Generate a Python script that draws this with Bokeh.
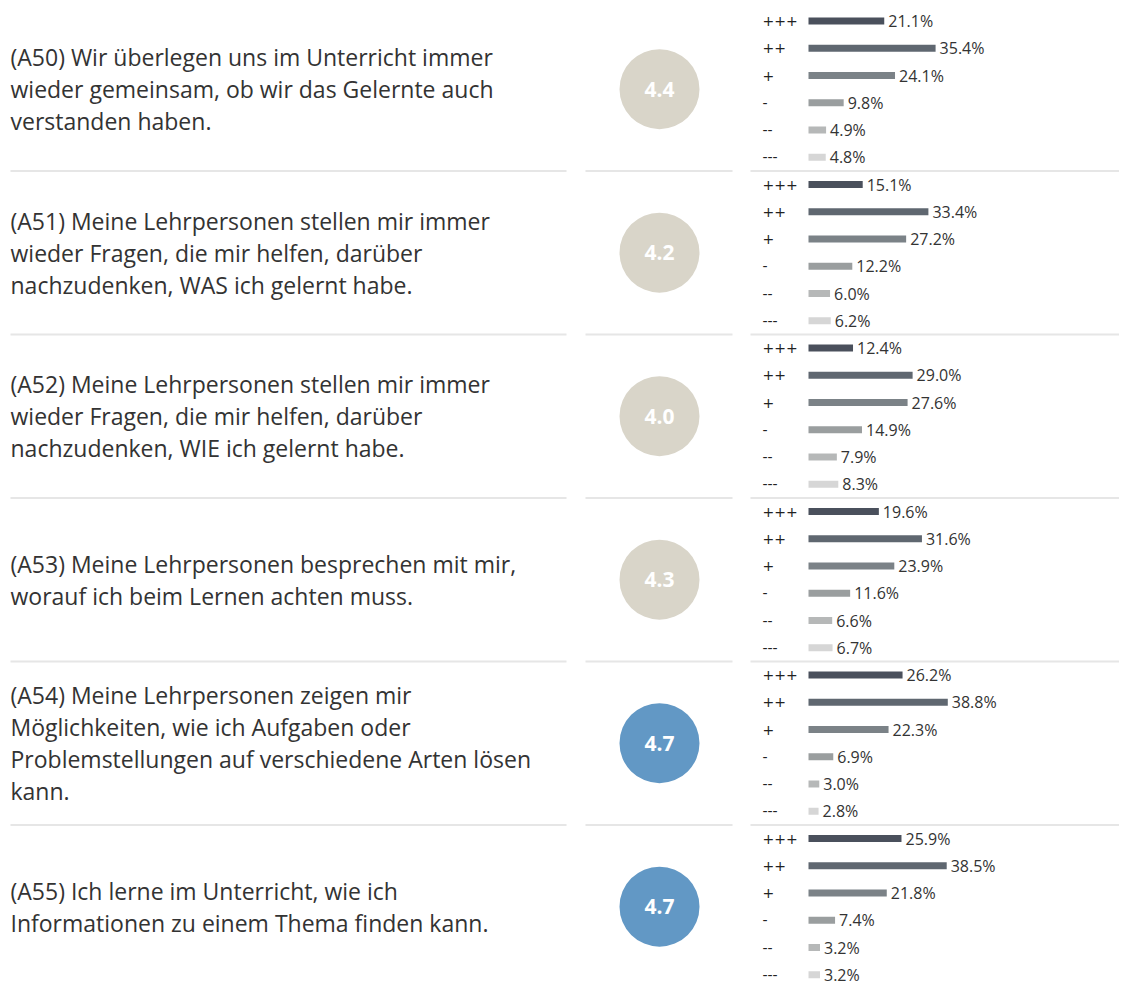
from bokeh.plotting import figure
from bokeh.models import Range1d, ColumnDataSource
from bokeh.core.properties import value
from bokeh.embed import file_html
from bokeh.resources import INLINE

# ---------------- data ----------------
questions = [
    "(A50) Wir überlegen uns im Unterricht immer\nwieder gemeinsam, ob wir das Gelernte auch\nverstanden haben.",
    "(A51) Meine Lehrpersonen stellen mir immer\nwieder Fragen, die mir helfen, darüber\nnachzudenken, WAS ich gelernt habe.",
    "(A52) Meine Lehrpersonen stellen mir immer\nwieder Fragen, die mir helfen, darüber\nnachzudenken, WIE ich gelernt habe.",
    "(A53) Meine Lehrpersonen besprechen mit mir,\nworauf ich beim Lernen achten muss.",
    "(A54) Meine Lehrpersonen zeigen mir\nMöglichkeiten, wie ich Aufgaben oder\nProblemstellungen auf verschiedene Arten lösen\nkann.",
    "(A55) Ich lerne im Unterricht, wie ich\nInformationen zu einem Thema finden kann.",
]
means = [4.4, 4.2, 4.0, 4.3, 4.7, 4.7]
levels = ["+++", "++", "+", "-", "--", "---"]
a50 = [21.1, 35.4, 24.1, 9.8, 4.9, 4.8]
a51 = [15.1, 33.4, 27.2, 12.2, 6.0, 6.2]
a52 = [12.4, 29.0, 27.6, 14.9, 7.9, 8.3]
a53 = [19.6, 31.6, 23.9, 11.6, 6.6, 6.7]
a54 = [26.2, 38.8, 22.3, 6.9, 3.0, 2.8]
a55 = [25.9, 38.5, 21.8, 7.4, 3.2, 3.2]
shares = [a50, a51, a52, a53, a54, a55]

# ---------------- styles ----------------
level_colors = ["#4a505c", "#5f6770", "#7b8287", "#9a9e9f", "#b6b8b8", "#d6d6d6"]
gray_circle = "#d9d5c9"
blue_circle = "#6298c5"
text_color = "#333333"
sep_color = "#e6e6e6"
FONT = "Open Sans"

W, H = 1119, 986
ITEM = 27.25          # px per bar slot
Y0 = 20.5             # px of first slot
PX_PER_PCT = 3.59
BAR_X0 = 808

def k_of(py):
    return (py - Y0) / ITEM

p = figure(width=W, height=H,
           x_range=Range1d(0, W),
           y_range=Range1d(k_of(H), k_of(0)),
           x_axis_type=None, y_axis_type=None,
           output_backend="svg", toolbar_location=None,
           min_border=0, outline_line_color=None)
p.background_fill_color = "white"
p.border_fill_color = "white"
p.extra_x_ranges = {"pct": Range1d(-BAR_X0 / PX_PER_PCT, (W - BAR_X0) / PX_PER_PCT)}

n_levels = len(levels)

# bars
bar = dict(y=[], v=[], c=[], lab=[], lvl=[])
for i, row in enumerate(shares):
    for j, v in enumerate(row):
        bar["y"].append(i * n_levels + j)
        bar["v"].append(v)
        bar["c"].append(level_colors[j])
        bar["lab"].append(f"{v:.1f}%")
        bar["lvl"].append(levels[j])
bsrc = ColumnDataSource(bar)
p.hbar(y="y", left=0, right="v", height=7 / ITEM, fill_color="c", line_color=None,
       source=bsrc, x_range_name="pct")
p.text(x="v", y="y", text="lab", source=bsrc, x_range_name="pct", x_offset=4,
       text_font=value(FONT), text_font_size="16px", text_color=text_color,
       text_baseline="middle", text_align="left")
p.text(x=762, y="y", text="lvl", source=bsrc,
       text_font=value("DejaVu Sans"), text_font_size="14px", text_color="#222222",
       text_baseline="middle", text_align="left")

# question texts (each line separately)
q = dict(y=[], t=[], off=[])
for i, txt in enumerate(questions):
    lines = txt.split("\n")
    n = len(lines)
    for li, line in enumerate(lines):
        q["y"].append(i * n_levels + (n_levels - 1) / 2)
        q["t"].append(line)
        q["off"].append((li - (n - 1) / 2) * 32)
p.text(x=10, y="y", text="t", y_offset="off", source=ColumnDataSource(q),
       text_font=value(FONT), text_font_size="23px", text_color=text_color,
       text_baseline="middle", text_align="left")

# mean circles
c = dict(y=[i * n_levels + (n_levels - 1) / 2 for i in range(len(means))],
         m=[f"{m:.1f}" for m in means],
         col=[blue_circle if m >= 4.5 else gray_circle for m in means])
csrc = ColumnDataSource(c)
p.scatter(x=659, y="y", size=80, marker="circle", fill_color="col", line_color=None, source=csrc)
p.text(x=659, y="y", text="m", source=csrc, text_font=value(FONT), text_font_size="21px",
       text_font_style="bold", text_color="white", text_align="center", text_baseline="middle")

# separators
for i in range(len(questions) - 1):
    ys = i * n_levels + n_levels - 0.5
    for x0, x1 in [(10, 566), (585, 732), (750, 1135)]:
        p.line(x=[x0, x1], y=[ys, ys], line_color=sep_color, line_width=2)

open("out.html", "w").write(file_html(p, INLINE))
